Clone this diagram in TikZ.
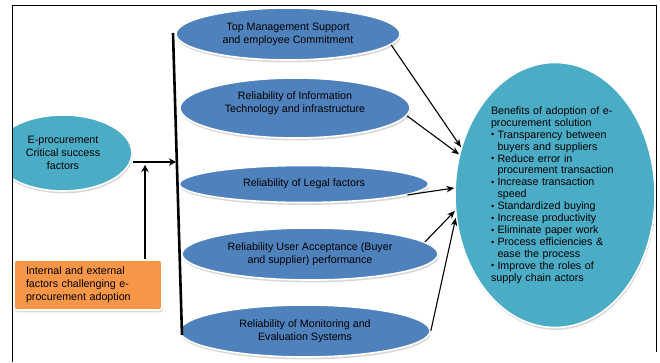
\documentclass[tikz,border=0pt]{standalone}
\usepackage{fontspec}
\setmainfont{Liberation Sans}
\usetikzlibrary{shapes.geometric,shadows,arrows.meta}

\definecolor{factorblue}{HTML}{4F81BD}
\definecolor{aquafill}{HTML}{4BACC6}
\definecolor{orangefill}{HTML}{F79646}

% one bullet line with a hanging indent (break lines inside with \newline)
\newcommand{\benefititem}[1]{\par\hangindent=6.5pt\hangafter=1\noindent\makebox[6.5pt][l]{\raisebox{0.3pt}{\scalebox{0.85}{\textbullet}}}#1}

\begin{document}
\begin{tikzpicture}[x=1pt,y=-1pt,
  raised/.style={draw=white, line width=1.6pt,
    drop shadow={shadow xshift=0.8pt, shadow yshift=-2.4pt, fill=black!30}},
  factor/.style={ellipse, raised, fill=factorblue, inner sep=0pt, align=center,
    font=\fontsize{10.7}{13}\selectfont},
  aqua/.style={ellipse, raised, fill=aquafill, inner sep=0pt},
  challenge/.style={rectangle, rounded corners=3pt, raised, fill=orangefill,
    inner xsep=12pt, inner ysep=0pt, align=left, text width=124pt,
    minimum height=50pt, font=\fontsize{10.7}{13}\selectfont},
  link/.style={-{Stealth[length=8pt,width=6.5pt]}, line width=1.1pt},
  feed/.style={-{Stealth[length=7pt,width=7.5pt]}, line width=2.4pt},
  bus/.style={line width=2.6pt},
  frame/.style={line width=0.9pt}]

\useasboundingbox (0,0) rectangle (660,362);

% success factor ellipses
\node[factor, minimum width=224pt, minimum height=52pt] (e1) at (288,34)
  {Top Management Support\\and employee Commitment};
\node[factor, minimum width=230pt, minimum height=60pt, text depth=12pt] (e2) at (295,108)
  {Reliability of Information\\Technology and infrastructure};
\node[factor, minimum width=249pt, minimum height=37pt] (e3) at (304,184)
  {Reliability of Legal factors};
\node[factor, minimum width=256pt, minimum height=52pt] (e4) at (310,254)
  {Reliability User Acceptance (Buyer\\and supplier) performance};
\node[factor, minimum width=250pt, minimum height=52pt] (e5) at (305,331)
  {Reliability of Monitoring and\\Evaluation Systems};

% critical success factors, cut off by the frame on the left
\begin{scope}
  \clip (12,0) rectangle (660,362);
  \node[aqua, minimum width=138pt, minimum height=76pt, align=center,
    font=\fontsize{10.7}{13}\selectfont] (csf) at (63,153)
    {E-procurement\\Critical success\\factors};
\end{scope}

% benefits
\node[aqua, minimum width=200pt, minimum height=265pt, text width=128pt, align=left,
  font=\fontsize{10.7}{11.9}\selectfont] (ben) at (555,195)
  {\noindent Benefits of adoption of e-\newline procurement solution
   \benefititem{Transparency between\newline buyers and suppliers}
   \benefititem{Reduce error in\newline procurement transaction}
   \benefititem{Increase transaction\newline speed}
   \benefititem{Standardized buying}
   \benefititem{Increase productivity}
   \benefititem{Eliminate paper work}
   \benefititem{Process efficiencies \&\newline ease the process}
   \benefititem{Improve the roles of\newline supply chain actors}};

% challenges
\node[challenge] (chal) at (88,285)
  {Internal and external\\factors challenging e-\\procurement adoption};

% vertical bus joining the factors
\coordinate (bustop) at (173,33);
\coordinate (busbot) at (182,335);
\draw[bus] (bustop) -- (busbot);

% feeds into the bus
\coordinate (hub) at (176,162);
\coordinate (up) at (145,165);
\draw[feed] (hub -| csf.east) -- (hub);
\draw[feed] (up |- chal.north) -- (up);

% factors to benefits
\draw[link] (e1.-6) -- (ben.153);
\draw[link] (e2.-4) -- (ben.157);
\draw[link] (e3.-6) -- (ben.176);
\draw[link] (e4.6) -- (ben.189);
\draw[link] (e5.east) -- (ben.193);

% outer frame
\draw[frame] (12,362) -- (12,5) -- (656,5) -- (656,352);
\end{tikzpicture}
\end{document}
